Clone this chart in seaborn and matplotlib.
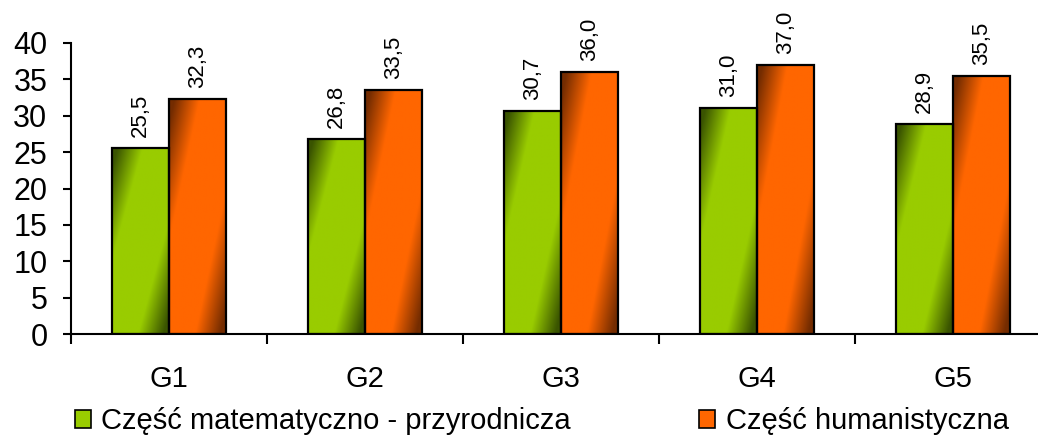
import matplotlib
matplotlib.use("Agg")
import matplotlib.pyplot as plt
from matplotlib.patches import Patch
from matplotlib.colors import to_rgb
import seaborn as sns
import pandas as pd
import numpy as np

# data
groups = ["G1", "G2", "G3", "G4", "G5"]
mat_values = [25.5, 26.8, 30.7, 31.0, 28.9]
hum_values = [32.3, 33.5, 36.0, 37.0, 35.5]
series_names = ["Część matematyczno - przyrodnicza", "Część humanistyczna"]

df = pd.DataFrame({
    "grupa": groups * 2,
    "wynik": mat_values + hum_values,
    "czesc": [series_names[0]] * len(groups) + [series_names[1]] * len(groups),
})

# bright / dark colour of each gradient
bright = {series_names[0]: "#99cc00", series_names[1]: "#ff6600"}
dark = {series_names[0]: "#3a5400", series_names[1]: "#742c00"}

sns.set_style("white")
plt.rcParams["font.family"] = ["Liberation Sans", "DejaVu Sans"]
plt.rcParams["text.color"] = "black"
plt.rcParams["xtick.color"] = "black"
plt.rcParams["ytick.color"] = "black"
plt.rcParams["xtick.labelcolor"] = "black"
plt.rcParams["ytick.labelcolor"] = "black"

fig = plt.figure(figsize=(10.38, 4.37), dpi=100)
ax = fig.add_axes([71 / 1038, 103 / 437, 980 / 1038, 291 / 437])

sns.barplot(data=df, x="grupa", y="wynik", hue="czesc", order=groups,
            hue_order=series_names, palette=bright, width=0.58,
            edgecolor="black", linewidth=1.6, legend=False, ax=ax)


def gradient_img(c_bright, c_dark, nx=80, ny=200, k=0.9):
    # diagonal shading: dark top-left and bottom-right corners, bright in the middle
    u = np.linspace(0, 1, nx)[None, :]
    v = np.linspace(1, 0, ny)[:, None]          # row 0 = top
    t = u - k * (v - 0.5)
    d = np.abs(t - 0.5)
    f = np.clip((0.86 - d) / 0.45, 0, 1)
    b = np.array(to_rgb(c_bright))
    dk = np.array(to_rgb(c_dark))
    return dk + (b - dk) * f[..., None]


for container, name in zip(ax.containers, series_names):
    img = gradient_img(bright[name], dark[name])
    for bar in container:
        x, w, h = bar.get_x(), bar.get_width(), bar.get_height()
        im = ax.imshow(img, extent=[x, x + w, 0, h], aspect="auto",
                       origin="upper", zorder=1.5, interpolation="bilinear")
        im.set_clip_path(bar)
        bar.set_facecolor("none")
        bar.set_zorder(2)
    ax.bar_label(container, labels=[f"{v:.1f}".replace(".", ",") for v in container.datavalues],
                 rotation=90, padding=8, fontsize=16, color="black")

ax.set_xlim(-0.5, 4.5)
ax.set_ylim(0, 40)
ax.set_yticks(np.arange(0, 41, 5))
ax.set_xlabel("")
ax.set_ylabel("")

ax.set_xticks(np.arange(-0.5, 5, 1), minor=True)
ax.tick_params(axis="x", which="major", length=0, pad=22, labelsize=21)
ax.tick_params(axis="x", which="minor", length=7, width=1.5, direction="out")
ax.tick_params(axis="y", length=6, width=1.5, direction="out", labelsize=22, pad=11)
ax.yaxis.set_ticks_position("left")
ax.xaxis.set_ticks_position("bottom")
for side in ["top", "right"]:
    ax.spines[side].set_visible(False)
for side in ["left", "bottom"]:
    ax.spines[side].set_color("black")
    ax.spines[side].set_linewidth(1.5)

handles = [Patch(facecolor=bright[n], edgecolor="black", linewidth=1.2) for n in series_names]
fig.legend(handles, series_names, loc="center left", bbox_to_anchor=(0.0723, 0.036),
           ncol=2, frameon=False, fontsize=21, handlelength=0.55, handleheight=0.55,
           handletextpad=0.35, columnspacing=4.4, borderpad=0, borderaxespad=0)

fig.savefig("out.png", dpi=100)
